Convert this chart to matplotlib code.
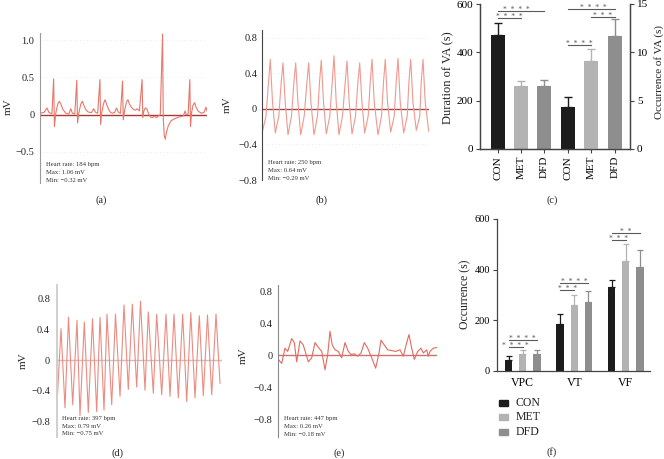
import numpy as np
import matplotlib.pyplot as plt
from matplotlib.patches import Rectangle

plt.rcParams['font.family'] = ['Liberation Serif', 'DejaVu Serif']

W, H = 664, 459

# ECG traces, (time in samples, mV)
trace_a = [(0, 0.02), (4, 0.03), (7, 0.09), (9, 0.03), (12, 0.01), (13.7, 0.48), (14.5, -0.16), (16, 0.03),
           (18, 0.15), (19.5, 0.18), (21, 0.14), (23, 0.07), (26, 0.02), (29, 0.01), (31, 0.08), (32.5, 0.02),
           (35, 0.01), (37, 0.46), (37.8, -0.11), (39, 0.02), (41, 0.14), (42.5, 0.18), (44, 0.13), (46, 0.07),
           (48, 0.04), (50, 0.03), (52, 0.03), (54, 0.08), (56, 0.03), (58, 0.02), (60.3, 0.47), (61, -0.13),
           (62, 0.02), (64, 0.15), (65.5, 0.2), (67, 0.14), (69, 0.07), (71, 0.03), (73, 0.02), (75, 0.03),
           (77, 0.09), (79, 0.03), (81, 0.02), (83, 0.45), (83.8, -0.07), (85, 0.05), (87, 0.17), (88.5, 0.2),
           (90, 0.14), (92, 0.1), (94, 0.07), (96, 0.06), (98, 0.08), (100, 0.05), (102.7, 0.47), (103.4, -0.04),
           (104.5, 0.05), (106, 0.09), (107.5, 0.08), (109, 0.02), (111, -0.03), (113, -0.04), (115, -0.02),
           (117, -0.04), (119, -0.02), (121, 0.0), (123.3, 1.08), (124, -0.05), (125, -0.28), (126, -0.33),
           (127, -0.25), (129, -0.15), (132, -0.08), (136, -0.05), (140, -0.03), (144, -0.02), (146, 0.05),
           (147, 0.0), (149, 0.01), (150.7, 0.47), (151.4, -0.16), (152.5, 0.03), (154, 0.13), (155.5, 0.16),
           (157, 0.1), (159, 0.05), (162, 0.02), (165, 0.03), (167, 0.1), (168, 0.05)]

trace_b = [(0.5, -0.25), (4, -0.08), (6.5, 0.3), (8.3, 0.56), (10.5, 0.08), (13.3, -0.27),
           (16.8, -0.08), (19.2, 0.3), (21, 0.52), (23.2, 0.08), (26, -0.29),
           (29.5, -0.08), (31.9, 0.3), (33.7, 0.52), (35.9, 0.08), (38.7, -0.29),
           (42.2, -0.08), (44.9, 0.3), (46.7, 0.52), (48.9, 0.08), (52, -0.29),
           (55.5, -0.08), (57.5, 0.3), (59.3, 0.55), (61.5, 0.08), (64.3, -0.28),
           (67.8, -0.08), (70.2, 0.3), (72, 0.6), (74.2, 0.08), (77, -0.29),
           (80.5, -0.08), (83.2, 0.3), (85, 0.54), (87.2, 0.08), (90, -0.28),
           (93.5, -0.08), (95.9, 0.3), (97.7, 0.52), (99.9, 0.08), (102.7, -0.27),
           (106.2, -0.08), (108.2, 0.3), (110, 0.56), (112.2, 0.08), (116, -0.29),
           (119.5, -0.08), (121.5, 0.3), (123.3, 0.56), (125.5, 0.08), (128.7, -0.26),
           (132.2, -0.08), (134.2, 0.3), (136, 0.57), (138.2, 0.08), (141.7, -0.27),
           (145.2, -0.08), (146.9, 0.3), (148.7, 0.56), (150.9, 0.08), (154.3, -0.24),
           (157.8, -0.08), (159.2, 0.3), (161, 0.56), (163.2, 0.08), (166.7, -0.25)]

trace_d = [(0.5, -0.45), (4, 0.41), (8, -0.62), (11.5, 0.56), (15.7, -0.58), (20, 0.52), (23, -0.72),
           (27.3, 0.5), (31.3, -0.68), (35.5, 0.54), (39.7, -0.67), (43, 0.56), (47, -0.65), (50, 0.6),
           (54.7, -0.58), (58.5, 0.6), (63, -0.47), (67, 0.72), (71.3, -0.38), (75.3, 0.73), (79.7, -0.35),
           (83.5, 0.77), (88, -0.39), (91.3, 0.63), (96.3, -0.43), (99.7, 0.6), (104.7, -0.45), (109, 0.6),
           (113, -0.47), (117, 0.6), (121.3, -0.49), (125.7, 0.6), (129.7, -0.54), (133.8, 0.62),
           (138, -0.49), (142.3, 0.58), (146.3, -0.46), (150.5, 0.59), (154.7, -0.45), (159, 0.6),
           (163, -0.3)]

trace_e = [(0.3, -0.05), (3.7, -0.1), (7, 0.09), (9.7, 0.05), (13.7, 0.21), (16.3, 0.16), (18.7, -0.08),
           (22, 0.18), (25.3, 0.13), (30.3, -0.08), (33.7, -0.03), (37, 0.16), (41, 0.09), (43.7, 0.05),
           (47, -0.18), (49.7, 0.01), (52, 0.3), (54.3, 0.13), (57, 0.07), (60.3, 0.05), (63.7, -0.03),
           (67, 0.16), (70.3, 0.05), (73, 0.01), (76.3, 0.02), (79.7, -0.01), (83, 0.03), (86.3, 0.16),
           (89.7, 0.09), (93.7, -0.03), (97.7, -0.16), (101, 0.03), (103, 0.19), (106.3, 0.13), (109.7, 0.07),
           (113.7, 0.06), (117.7, 0.05), (122, 0.07), (125.3, -0.01), (128.7, 0.16), (131, 0.26), (133.7, 0.09),
           (136.3, -0.05), (139.7, 0.05), (143, 0.09), (145.3, 0.03), (148.7, 0.07), (150.3, -0.01),
           (152, 0.05), (155.3, 0.09), (159, 0.1)]

info_a = ["Heart rate: 184 bpm", "Max: 1.06 mV", "Min: \u22120.32 mV"]
info_b = ["Heart rate: 250 bpm", "Max: 0.64 mV", "Min: \u22120.29 mV"]
info_d = ["Heart rate: 397 bpm", "Max: 0.79 mV", "Min: \u22120.75 mV"]
info_e = ["Heart rate: 447 bpm", "Max: 0.26 mV", "Min: \u22120.18 mV"]

# panel (c)
va_groups = ["CON", "MET", "DFD"]
va_duration = [470, 260, 260]
va_duration_err = [53, 22, 25]
va_occurrence = [4.3, 9.1, 11.7]
va_occurrence_err = [1.1, 1.2, 1.7]

# panel (f)
arrhythmias = ["VPC", "VT", "VF"]
occ_con = [42, 184, 332]
occ_con_err = [16, 41, 29]
occ_met = [66, 259, 434]
occ_met_err = [16, 42, 67]
occ_dfd = [66, 272, 412]
occ_dfd_err = [18, 42, 64]

bar_colors = ["#1c1c1c", "#b3b3b3", "#8e8e8e"]
star_color = "#5a5a5a"
S4, S3, S2 = "*  *  *  *", "*  *  *", "*  *"


def box(left, top, right, bottom):
    return [left / W, 1 - bottom / H, (right - left) / W, (bottom - top) / H]


def put(x, y, s, **kw):
    fig.text(x / W, 1 - y / H, s, **kw)


def ecg_panel(rect, trace, ylim, xlim, yticks, yticklabels, info, info_pos, mv_pos, tag, tag_pos,
              trace_color, zero_color, spine_color, spine_lw=0.8, grid=False, pad=3.5):
    ax = fig.add_axes(box(*rect))
    t, mv = zip(*trace)
    if grid:
        for yv in yticks:
            if yv != 0:
                ax.axhline(yv, color="#e4e4e4", lw=0.6, ls=(0, (1, 3)))
    ax.axhline(0, color=zero_color, lw=1.0, zorder=1)
    ax.plot(t, mv, color=trace_color, lw=0.8, zorder=2)
    ax.set_xlim(*xlim)
    ax.set_ylim(*ylim)
    for s in ["top", "right", "bottom"]:
        ax.spines[s].set_visible(False)
    ax.spines["left"].set_color(spine_color)
    ax.spines["left"].set_linewidth(spine_lw)
    ax.set_xticks([])
    ax.set_yticks(yticks)
    ax.set_yticklabels(yticklabels)
    ax.tick_params(axis="y", length=0, pad=pad, labelsize=7.5, colors="#222")
    ax.patch.set_alpha(0)
    x0, ys = info_pos
    for line, yy in zip(info, ys):
        put(x0, yy, line, fontsize=4.8, va="center", ha="left", color="#333")
    put(mv_pos[0], mv_pos[1], "mV", fontsize=8, rotation=90, va="center", ha="center", color="#222")
    put(tag_pos[0], tag_pos[1], tag, fontsize=7.5, va="center", ha="center", color="#222")
    return ax


def sig(ax, x1, x2, y, stars, xs, dy=0.7, fs=5.5):
    ax.plot([x1, x2], [y, y], color=star_color, lw=0.8, clip_on=False)
    ax.annotate(stars, xy=(xs, y), xytext=(0, dy), textcoords="offset points",
                ha="center", va="center", fontsize=fs, color=star_color, annotation_clip=False)


fig = plt.figure(figsize=(W / 100, H / 100), dpi=100)

M = "\u2212"
ecg_panel((40, 33, 207, 183), trace_a, (-0.916, 1.095), (0, 168), [1.0, 0.5, 0, -0.5],
          ["1.0", "0.5", "0", M + "0.5"], info_a, (46, [164.3, 172.7, 180.7]), (8, 107),
          "(a)", (101.5, 200.5), "#e8766a", "#a53a32", "#9a9a9a", grid=True, pad=4)
ecg_panel((262, 30, 429, 180), trace_b, (-0.8, 0.89), (0, 167), [0.8, 0.4, 0, -0.4, -0.8],
          ["0.8", "0.4", "0", M + "0.4", M + "0.8"], info_b, (268, [162.7, 170.7, 178.7]), (227, 105),
          "(b)", (322, 200.5), "#ef9990", "#a24a48", "#444444", grid=True)
ecg_panel((57, 285, 222, 437), trace_d, (-1.0, 0.98), (0, 165), [0.8, 0.4, 0, -0.4, -0.8],
          ["0.8", "0.4", "0", M + "0.4", M + "0.8"], info_d, (62, [418.3, 426, 433.5]), (23, 361),
          "(d)", (117.5, 453), "#ea8c82", "#dcb9b6", "#cccccc", spine_lw=1.3, pad=5)
ecg_panel((278, 285, 437, 437), trace_e, (-1.02, 0.88), (0, 159), [0.8, 0.4, 0, -0.4, -0.8],
          ["0.8", "0.4", "0", M + "0.4", M + "0.8"], info_e, (284, [418.3, 426, 434]), (243, 356),
          "(e)", (339, 453), "#e46a5e", "#c9746c", "#8a8a8a", pad=4)

# ---- panel (c): duration (left axis) and occurrence (right axis)
axc = fig.add_axes(box(480, 4, 630, 149))
axc2 = axc.twinx()
xl = np.arange(3)
xr = np.arange(3) + 3
for i in range(3):
    axc.bar(xl[i], va_duration[i], width=0.6, color=bar_colors[i], zorder=2)
    axc.errorbar(xl[i], va_duration[i], yerr=[[0], [va_duration_err[i]]], ecolor=bar_colors[i],
                 elinewidth=1.0, capsize=3, capthick=1.0, fmt="none", zorder=1)
    axc2.bar(xr[i], va_occurrence[i], width=0.6, color=bar_colors[i], zorder=2)
    axc2.errorbar(xr[i], va_occurrence[i], yerr=[[0], [va_occurrence_err[i]]], ecolor=bar_colors[i],
                  elinewidth=1.0, capsize=3, capthick=1.0, fmt="none", zorder=1)
axc.set_xlim(-0.75, 5.65)
axc.set_ylim(0, 600)
axc2.set_ylim(0, 15)
axc.set_yticks([0, 200, 400, 600])
axc2.set_yticks([0, 5, 10, 15])
axc.set_xticks(np.arange(6))
axc.set_xticklabels(va_groups + va_groups, rotation=90, fontsize=9)
for a in (axc, axc2):
    a.spines["top"].set_visible(False)
    for s in ["left", "right", "bottom"]:
        a.spines[s].set_color("#444")
        a.spines[s].set_linewidth(0.9)
    a.tick_params(labelsize=8, length=3, width=0.8, color="#444", pad=2)
axc.tick_params(axis="x", pad=2)
sig(axc, 0, 2, 573, S4, 0.8)
sig(axc, 0, 1, 543, S4, 0.5)
sig(axc, 3, 5, 580, S4, 4.08)
sig(axc, 4, 5, 548, S3, 4.47)
sig(axc, 3, 4, 429, S4, 3.5)
put(448, 78, "Duration of VA (s)", fontsize=9, rotation=90, va="center", ha="center", color="#222")
put(659, 72, "Occurrence of VA (s)", fontsize=8, rotation=90, va="center", ha="center", color="#222")
put(552, 200.5, "(c)", fontsize=7.5, va="center", ha="center", color="#222")

# ---- panel (f)
axf = fig.add_axes(box(497, 219, 650, 371))
xg = np.arange(3)
off = 0.276
bw = 0.142
for k, (vals, errs) in enumerate([(occ_con, occ_con_err), (occ_met, occ_met_err), (occ_dfd, occ_dfd_err)]):
    xs = xg + (k - 1) * off
    axf.bar(xs, vals, width=bw, color=bar_colors[k], zorder=2)
    axf.errorbar(xs, vals, yerr=[np.zeros(3), errs], ecolor=bar_colors[k], elinewidth=0.9,
                 capsize=2, capthick=0.9, fmt="none", zorder=1)
axf.set_xlim(-0.5, 2.47)
axf.set_ylim(0, 600)
axf.set_yticks([0, 200, 400, 600])
axf.set_xticks(xg)
axf.set_xticklabels(arrhythmias, fontsize=8.5)
axf.tick_params(axis="x", length=0, pad=4)
axf.tick_params(axis="y", labelsize=7.5, length=3, width=0.8, color="#444", pad=2)
for s in ["top", "right"]:
    axf.spines[s].set_visible(False)
for s in ["left", "bottom"]:
    axf.spines[s].set_color("#444")
    axf.spines[s].set_linewidth(0.9)
for g, (up, low, s_up, s_low) in enumerate([(122, 94, S4, S4),
                                              (348, 319, S4, S3),
                                              (546, 518, S2, S3)]):
    sig(axf, g - off, g + off, up, s_up, g)
    sig(axf, g - off, g, low, s_low, g - off / 2)
put(465, 294, "Occurrence (s)", fontsize=8.5, rotation=90, va="center", ha="center", color="#222")

for k, name in enumerate(va_groups):
    yy = [402.7, 417.3, 431.7][k]
    fig.add_artist(Rectangle((499 / W, 1 - (yy + 3) / H), 9 / W, 6 / H, transform=fig.transFigure,
                             color=bar_colors[k]))
    put(516, yy, name, fontsize=8.5, va="center", ha="left", color="#222")
put(552, 452.5, "(f)", fontsize=7.5, va="center", ha="center", color="#222")

fig.savefig("out.png", dpi=100)
